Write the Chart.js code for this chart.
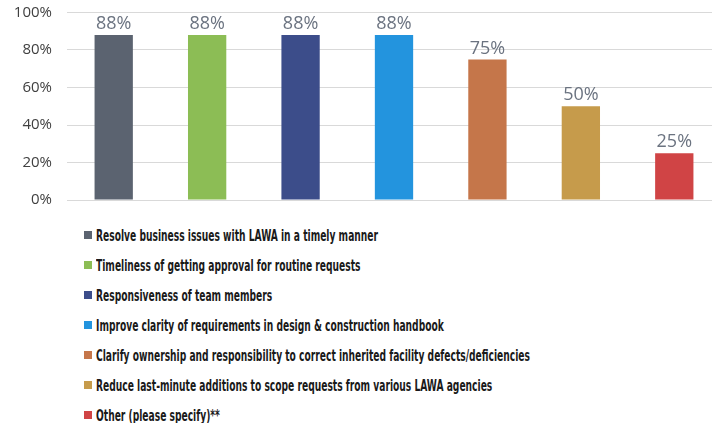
<!DOCTYPE html>
<html>
<head>
<meta charset="utf-8">
<script src="https://cdn.jsdelivr.net/npm/chart.js@4"></script>
<style>
    html, body { margin: 0; padding: 0; background: #fff; overflow: hidden; }
    body { width: 712px; height: 423px; position: relative; }
    #myChart { position: absolute; left: 0; top: 0; }
    #legend { position: absolute; left: 84px; top: 220px; margin: 0; padding: 0; list-style: none; }
    #legend li { height: 30px; display: flex; align-items: center; white-space: nowrap;
        font-family: "DejaVu Sans Condensed", "Liberation Sans Narrow", sans-serif; font-weight: bold;
        font-size: 16px; color: #1a1a1a; }
    #legend .box { width: 8px; height: 8px; margin-right: 4px; flex: none; }
    #legend .txt { display: inline-block; transform-origin: left center; }
</style>
</head>
<body>
<canvas id="myChart" width="722" height="205"></canvas>
<ul id="legend"></ul>
<script>
const categories = [
    'Resolve business issues with LAWA in a timely manner',
    'Timeliness of getting approval for routine requests',
    'Responsiveness of team members',
    'Improve clarity of requirements in design & construction handbook',
    'Clarify ownership and responsibility to correct inherited facility defects/deficiencies',
    'Reduce last-minute additions to scope requests from various LAWA agencies',
    'Other (please specify)**'
];
const values = [88, 88, 88, 88, 75, 50, 25];
const barColors = ['#5b6370', '#8cbd55', '#3c4d8a', '#2394de', '#c5764a', '#c69b4b', '#d04445'];
const yTicks = [0, 20, 40, 60, 80, 100];

// draws the "88%" labels on top of the bars
const valueLabels = {
    id: 'valueLabels',
    afterDatasetsDraw(chart) {
        const ctx = chart.ctx;
        const meta = chart.getDatasetMeta(0);
        ctx.save();
        ctx.font = '18px "Open Sans"';
        ctx.fillStyle = '#6b7380';
        ctx.textAlign = 'center';
        ctx.textBaseline = 'bottom';
        meta.data.forEach((bar, i) => {
            ctx.fillText(values[i] + '%', bar.x, bar.y - 2);
        });
        ctx.restore();
    }
};

function buildLegend() {
    const ul = document.getElementById('legend');
    let spans = [];
    categories.forEach((name, i) => {
        const li = document.createElement('li');
        const box = document.createElement('span');
        box.className = 'box';
        box.style.background = barColors[i];
        const txt = document.createElement('span');
        txt.className = 'txt';
        txt.textContent = name;
        li.appendChild(box);
        li.appendChild(txt);
        ul.appendChild(li);
        spans.push(txt);
    });
    // squeeze the text to the narrow look of the original
    const k = 282 / spans[0].getBoundingClientRect().width;
    spans.forEach(s => s.style.transform = 'scaleX(' + k + ')');
}

function drawChart() {
    const ctx = document.getElementById('myChart');
    new Chart(ctx, {
        type: 'bar',
        data: {
            labels: categories,
            datasets: [{
                data: values,
                backgroundColor: barColors,
                barPercentage: 0.41,
                categoryPercentage: 1
            }]
        },
        options: {
            responsive: false,
            animation: false,
            layout: { padding: { top: 12.5, left: 13, right: 1, bottom: 5 } },
            plugins: {
                legend: { display: false },
                tooltip: { enabled: false }
            },
            scales: {
                x: { display: false },
                y: {
                    min: 0,
                    max: 100,
                    afterBuildTicks: axis => { axis.ticks = yTicks.map(v => ({value: v})); },
                    afterFit: axis => {
                        axis.width = 54;
                        axis.paddingTop = 0;
                        axis.paddingBottom = 0;
                    },
                    border: { display: false },
                    grid: { color: '#d9d9d9', drawTicks: false },
                    ticks: {
                        padding: 15,
                        color: '#404040',
                        font: { family: '"Open Sans"', size: 15 },
                        callback: v => v + '%'
                    }
                }
            }
        },
        plugins: [valueLabels]
    });
}

buildLegend();
drawChart();
</script>
</body>
</html>
